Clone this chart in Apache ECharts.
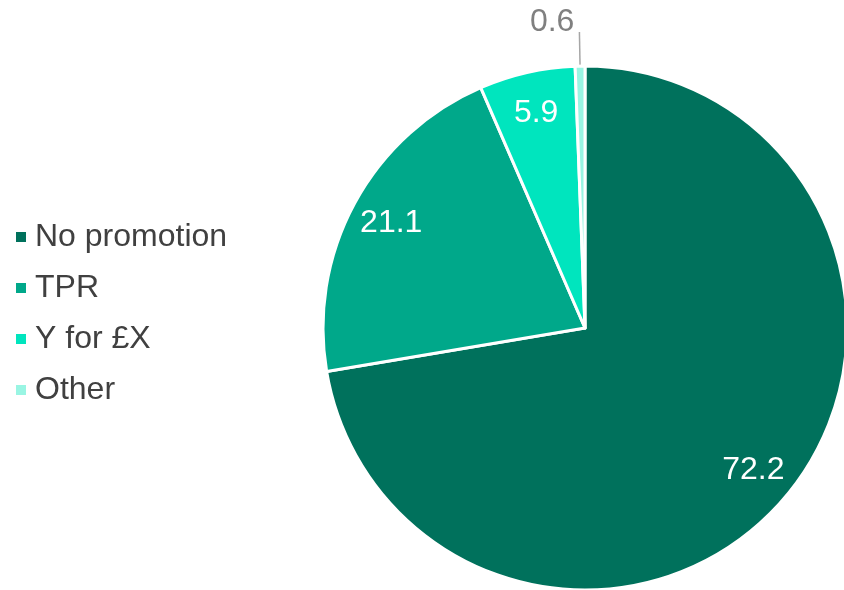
<!DOCTYPE html>
<html>
<head>
<meta charset="utf-8">
<script src="https://cdn.jsdelivr.net/npm/echarts@6/dist/echarts.min.js"></script>
<style>
  html, body { margin: 0; padding: 0; background: #fff; }
  #chart { width: 844px; height: 590px; }
</style>
</head>
<body>
<div id="chart"></div>
<script>
// Share of sales by promotion type (%)
const categories = ['No promotion', 'TPR', 'Y for £X', 'Other'];
const values = [72.2, 21.1, 5.9, 0.6];
const colors = ['#00715C', '#00A88A', '#00E5BE', '#99F5E3'];

const CENTER = [585, 328];
const R = 262;
const FONT = 'Liberation Sans, Arial, sans-serif';

const chart = echarts.init(document.getElementById('chart'));

const sliceData = categories.map((name, i) => {
  const d = { name, value: values[i], itemStyle: { color: colors[i] } };
  if (name === 'Other') {
    // small slice: value sits above the end of a leader line
    d.label = {
      show: true,
      position: 'outside',
      distanceToLabelLine: 1,
      formatter: p => '{v|' + p.value.toFixed(1) + '}\n{s|}',
      rich: {
        v: { fontSize: 32, fontFamily: FONT, color: '#808080', lineHeight: 34, padding: [0, 4, 0, 0] },
        s: { height: 20, lineHeight: 20 }
      }
    };
    d.labelLine = {
      show: true,
      length: 34,
      length2: 0,
      lineStyle: { color: '#A6A6A6', width: 1.5 }
    };
  }
  return d;
});

// Label ring: transparent slices sharing the same angles so the inside labels sit near the rim
const labelData = categories.map((name, i) => ({
  name,
  value: values[i],
  label: { show: name !== 'Other' }
}));

chart.setOption({
  animation: false,
  legend: {
    orient: 'vertical',
    left: 11,
    top: 216,
    itemWidth: 10,
    itemHeight: 10,
    itemGap: 19,
    icon: 'rect',
    itemStyle: { borderWidth: 0 },
    data: categories,
    textStyle: {
      fontFamily: FONT,
      fontSize: 32,
      color: '#404040',
      lineHeight: 32,
      padding: [0, 0, 0, 4]
    }
  },
  series: [
    {
      type: 'pie',
      center: CENTER,
      radius: [0, R],
      startAngle: 90,
      clockwise: true,
      avoidLabelOverlap: false,
      itemStyle: { borderColor: '#ffffff', borderWidth: 3 },
      label: {
        show: false,
        fontFamily: FONT,
        formatter: p => p.value.toFixed(1)
      },
      emphasis: { disabled: true },
      data: sliceData
    },
    {
      type: 'pie',
      center: CENTER,
      radius: [R * 0.66, R],
      startAngle: 90,
      clockwise: true,
      silent: true,
      legendHoverLink: false,
      avoidLabelOverlap: false,
      itemStyle: { color: 'rgba(0,0,0,0)', borderWidth: 0 },
      label: {
        position: 'inside',
        color: '#ffffff',
        fontSize: 32,
        fontFamily: FONT,
        formatter: p => p.value.toFixed(1)
      },
      labelLine: { show: false },
      emphasis: { disabled: true },
      data: labelData
    }
  ]
});
</script>
</body>
</html>
